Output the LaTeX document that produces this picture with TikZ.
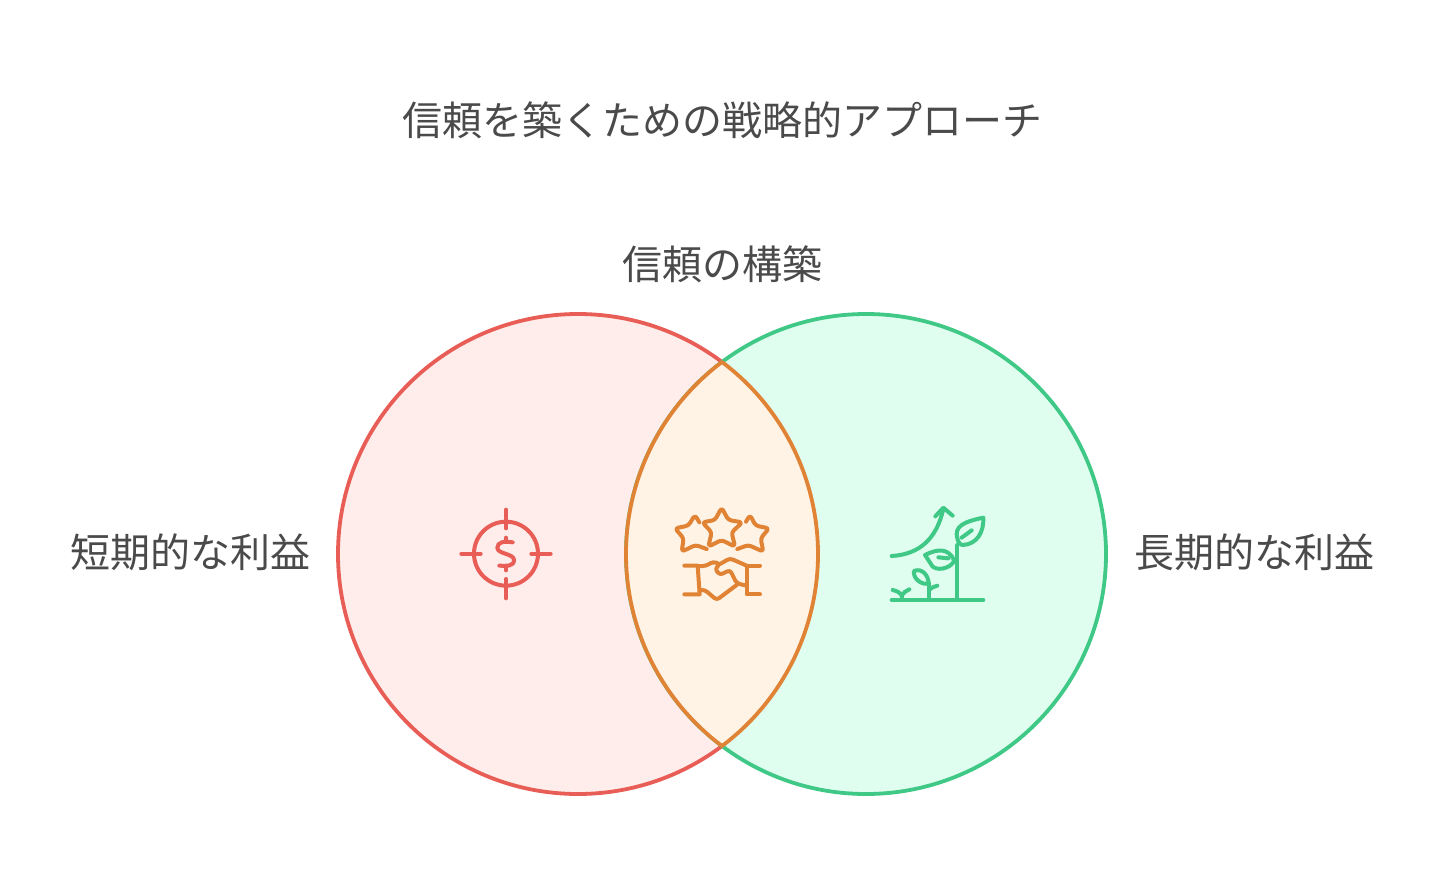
\documentclass[tikz,border=0pt]{standalone}
\usepackage{fontspec}
\usepackage{xcolor}
\usetikzlibrary{calc}
\newfontfamily\cjk{Noto Sans CJK JP}
\definecolor{ink}{HTML}{4A4A4A}
\definecolor{redline}{HTML}{E85D55}
\definecolor{redbg}{HTML}{FFEDEB}
\definecolor{greenline}{HTML}{3FC886}
\definecolor{greenbg}{HTML}{E0FEF0}
\definecolor{orangeline}{HTML}{E08335}
\definecolor{orangebg}{HTML}{FFF3E6}
\tikzset{
  lab/.style={text=ink, inner sep=0pt, font=\cjk\fontsize{40}{48}\selectfont},
  ring/.style={line width=3.8pt, line join=round},
  icon/.style={line width=4pt, line cap=round, line join=round},
  iconred/.style={icon, draw=redline},
  iconorange/.style={icon, draw=orangeline},
  icongreen/.style={icon, draw=greenline}
}

\begin{document}
\begin{tikzpicture}[x=1pt,y=-1pt]
  \useasboundingbox (0,0) rectangle (1444,892);
  \def\R{240}
  \coordinate (L) at (578,554);
  \coordinate (K) at (866,554);
  \coordinate (T) at (722,362);
  % circles, then the overlap on top
  \draw[ring,draw=redline,fill=redbg] (L) circle (\R);
  \draw[ring,draw=greenline,fill=greenbg] (K) circle (\R);
  \draw[ring,draw=orangeline,fill=orangebg] (T) arc (233.13:126.87:\R) arc (53.13:-53.13:\R) -- cycle;
  % labels
  \node[lab] (title) at (722,120) {信頼を築くための戦略的アプローチ};
  \node[lab] (trust) at (722,264) {信頼の構築};
  \node[lab] (short) at (190.5,552) {短期的な利益};
  \node[lab] (long) at (1254,552) {長期的な利益};
  % target icon
  \begin{scope}[shift={(450,495)},x=0.3333pt,y=-0.3333pt]
    \draw[iconred] (168,176) circle (96);
    \draw[iconred] (168,44)--(168,100);
    \draw[iconred] (168,252)--(168,310);
    \draw[iconred] (34,176)--(92,176);
    \draw[iconred] (244,176)--(302,176);
    \draw[iconred] (188,142) .. controls (165,138) and (142,140) .. (142,158)
      .. controls (142,178) and (192,175) .. (192,195)
      .. controls (192,215) and (168,213) .. (148,212);
    \draw[iconred] (168,128)--(168,140);
    \draw[iconred] (168,213)--(168,226);
  \end{scope}
  % stars and handshake icon
  \begin{scope}[shift={(665,495)},x=0.3333pt,y=-0.3333pt]
    \draw[iconorange,rounded corners=3pt] (170,38)--(190,75)--(232,82)--(200,112)--(210,155)--(170,135)--(130,155)--(140,112)--(112,82)--(150,75)--cycle;
    \draw[iconorange,rounded corners=3pt] (125,162)--(92,150)--(50,170)--(56,130)--(30,100)--(70,92)--(90,60)--(103,82);
    \draw[iconorange,rounded corners=3pt] (217,162)--(250,150)--(295,170)--(287,130)--(312,100)--(272,92)--(255,60)--(243,80);
    \draw[iconorange] (58,212)--(98,212)--(104,298)--(58,298);
    \draw[iconorange] (285,212)--(245,212)--(245,298)--(285,298);
    \draw[iconorange,rounded corners=3pt] (100,213)--(122,213)--(145,200)--(165,207)--(150,222)--(165,240)--(195,225)--(215,265)--(245,272);
    \draw[iconorange,rounded corners=3pt] (165,207)--(195,190)--(245,212);
    \draw[iconorange,rounded corners=3pt] (104,285)--(120,285)--(155,315)--(215,270);
  \end{scope}
  % growth icon
  \begin{scope}[shift={(880,495)},x=0.3333pt,y=-0.3333pt]
    \draw[icongreen] (35,315)--(310,315);
    \draw[icongreen] (232,315)--(232,150);
    \draw[icongreen] (232,130) .. controls (222,95) and (250,80) .. (310,68)
      .. controls (312,110) and (292,148) .. (248,150)
      .. controls (240,150) and (234,140) .. (232,130) -- cycle;
    \draw[icongreen] (245,128)--(275,106);
    \draw[icongreen] (135,180) .. controls (175,160) and (205,160) .. (222,195)
      .. controls (222,212) and (180,232) .. (158,215) -- cycle;
    \draw[icongreen] (175,187)--(205,190);
    \draw[icongreen] (102,228) .. controls (125,218) and (145,240) .. (146,265)
      .. controls (125,272) and (98,250) .. (102,228) -- cycle;
    \draw[icongreen] (147,315)--(147,265);
    \draw[icongreen] (147,285) .. controls (155,278) and (162,274) .. (172,272);
    \draw[icongreen] (65,315)--(65,302);
    \draw[icongreen] (38,285) .. controls (50,288) and (60,292) .. (65,302)
      .. controls (70,292) and (78,288) .. (88,283);
    \draw[icongreen] (35,183) .. controls (120,178) and (170,130) .. (190,42);
    \draw[icongreen] (166,64)--(190,38)--(218,62);
  \end{scope}
\end{tikzpicture}
\end{document}
